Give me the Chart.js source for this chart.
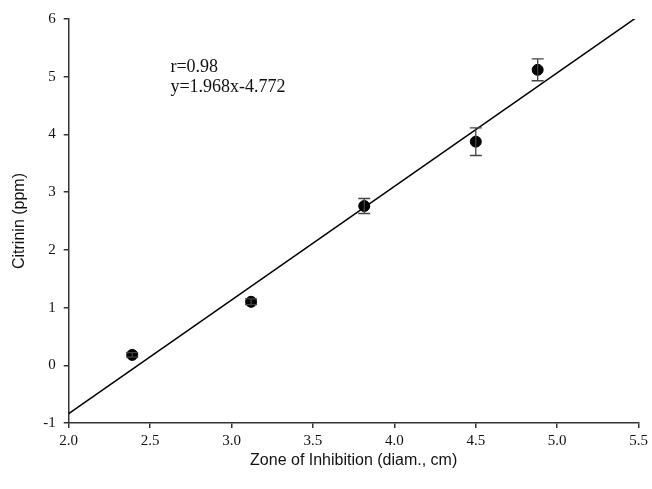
<!DOCTYPE html>
<html>
<head>
<meta charset="utf-8">
<script src="https://cdn.jsdelivr.net/npm/chart.js@4/dist/chart.umd.min.js"></script>
<style>
html,body{margin:0;padding:0;background:#fff;}
#wrap{width:652px;height:489px;}
</style>
</head>
<body>
<div id="wrap"><canvas id="c" width="652" height="489"></canvas></div>
<script>
const zoneX = [2.39, 3.12, 3.815, 4.50, 4.88];
const citrininY = [0.18, 1.10, 2.76, 3.875, 5.12];
const citrininErr = [0.04, 0.05, 0.13, 0.24, 0.19];
const fitSlope = 1.968;
const fitIntercept = -4.772;
const fitRange = [2.0, 5.5];
const xTicks = [2.0, 2.5, 3.0, 3.5, 4.0, 4.5, 5.0, 5.5];
const yTicks = [-1, 0, 1, 2, 3, 4, 5, 6];
const annotationLines = ['r=0.98', 'y=1.968x-4.772'];

const points = zoneX.map((x, i) => ({x: x, y: citrininY[i]}));
const fitLine = fitRange.map(x => ({x: x, y: fitSlope * x + fitIntercept}));

const errorBars = {
  id: 'errorBars',
  afterDatasetsDraw(chart) {
    const ctx = chart.ctx, xs = chart.scales.x, ys = chart.scales.y;
    ctx.save();
    ctx.strokeStyle = '#444';
    ctx.lineWidth = 1.3;
    zoneX.forEach((x, i) => {
      const px = xs.getPixelForValue(x);
      const top = ys.getPixelForValue(citrininY[i] + citrininErr[i]);
      const bot = ys.getPixelForValue(citrininY[i] - citrininErr[i]);
      ctx.beginPath();
      ctx.moveTo(px, top); ctx.lineTo(px, bot);
      ctx.moveTo(px - 6, top); ctx.lineTo(px + 6, top);
      ctx.moveTo(px - 6, bot); ctx.lineTo(px + 6, bot);
      ctx.stroke();
    });
    ctx.restore();
  }
};

const annotation = {
  id: 'annotation',
  afterDraw(chart) {
    const ctx = chart.ctx, xs = chart.scales.x, ys = chart.scales.y;
    ctx.save();
    ctx.fillStyle = '#111';
    ctx.font = '18px "Liberation Serif", "Times New Roman", serif';
    ctx.textBaseline = 'middle';
    ctx.textAlign = 'left';
    const px = xs.getPixelForValue(2.625);
    const py = ys.getPixelForValue(5.16);
    annotationLines.forEach((t, i) => ctx.fillText(t, px, py + i * 20));
    ctx.restore();
  }
};

new Chart(document.getElementById('c'), {
  type: 'scatter',
  data: {
    datasets: [
      {
        label: 'Fit',
        data: fitLine,
        showLine: true,
        borderColor: '#000',
        borderWidth: 1.5,
        pointRadius: 0,
        fill: false,
        order: 2
      },
      {
        label: 'Citrinin',
        data: points,
        backgroundColor: '#000',
        borderColor: '#000',
        pointRadius: 5.5,
        pointHoverRadius: 5.5,
        order: 1
      }
    ]
  },
  options: {
    responsive: false,
    animation: false,
    events: [],
    layout: {padding: {top: 19, right: 10, left: 0, bottom: 0}},
    plugins: {legend: {display: false}, tooltip: {enabled: false}},
    scales: {
      x: {
        type: 'linear',
        min: 2.0, max: 5.5,
        afterBuildTicks: s => { s.ticks = xTicks.map(v => ({value: v})); },
        afterFit: s => { s.height = 66; },
        border: {display: true, color: '#333', width: 1.5},
        grid: {display: true, drawOnChartArea: false, drawTicks: true, tickLength: 5, color: '#333', lineWidth: 1.5},
        ticks: {
          color: '#111',
          padding: 4,
          font: {family: '"Liberation Serif", "Times New Roman", serif', size: 15},
          callback: v => Number(v).toFixed(1),
          maxRotation: 0
        },
        title: {
          display: true,
          text: 'Zone of Inhibition (diam., cm)',
          color: '#111',
          font: {family: '"Liberation Sans", Arial, sans-serif', size: 16},
          padding: {top: 4, bottom: 19}
        }
      },
      y: {
        type: 'linear',
        min: -1, max: 6,
        afterBuildTicks: s => { s.ticks = yTicks.map(v => ({value: v})); },
        afterFit: s => { s.width = 68.7; },
        border: {display: true, color: '#333', width: 1.5},
        grid: {display: true, drawOnChartArea: false, drawTicks: true, tickLength: 5, color: '#333', lineWidth: 1.5},
        ticks: {
          color: '#111',
          padding: 8,
          font: {family: '"Liberation Serif", "Times New Roman", serif', size: 15}
        },
        title: {
          display: true,
          text: 'Citrinin (ppm)',
          color: '#111',
          font: {family: '"Liberation Sans", Arial, sans-serif', size: 16},
          padding: {top: 10, bottom: 6}
        }
      }
    }
  },
  plugins: [errorBars, annotation]
});
</script>
</body>
</html>
